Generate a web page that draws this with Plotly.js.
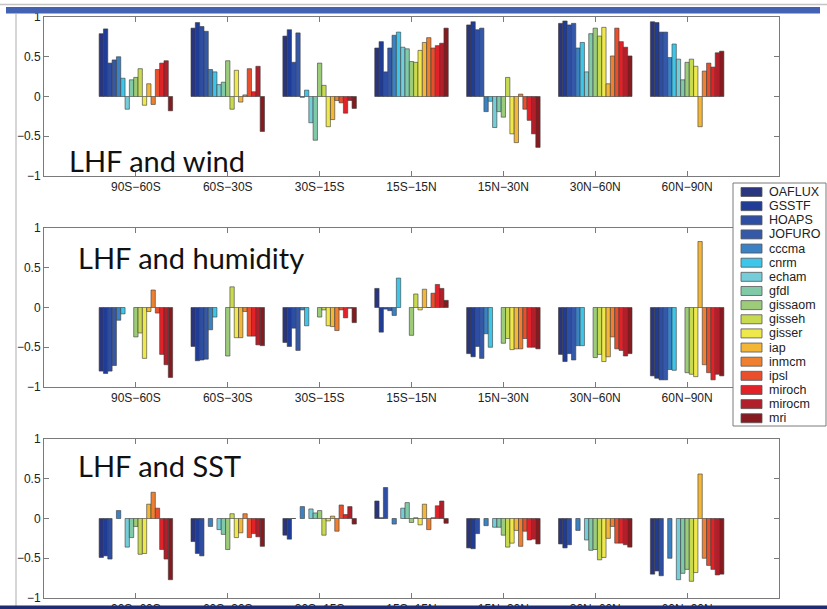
<!DOCTYPE html>
<html><head><meta charset="utf-8">
<script src="https://cdn.plot.ly/plotly-3.0.1.min.js"></script>
<style>html,body{margin:0;padding:0;background:#fff}#chart{width:827px;height:609px}</style>
</head><body><div id="chart"></div>
<script>
// ---- data ----
const models = ['OAFLUX','GSSTF','HOAPS','JOFURO','cccma','cnrm','echam','gfdl','gissaom','gisseh','gisser','iap','inmcm','ipsl','miroch','mirocm','mri'];
const modelColors = ['#2a3580','#1f3d96','#2d4ea3','#3559a8','#3b82c4','#3ec6ea','#74cdd9','#80caa8','#9ccc7a','#c8da50','#efe84a','#f3b637','#ef8030','#e94e2d','#e22229','#b11f2a','#861a1f'];
const regions = ['90S\u221260S','60S\u221230S','30S\u221215S','15S\u221215N','15N\u221230N','30N\u221260N','60N\u221290N'];
const yTickVals = [-1,-0.5,0,0.5,1];
const yTickText = ['\u22121','\u22120.5','0','0.5','1'];
const panelTitles = ['LHF and wind','LHF and humidity','LHF and SST'];

// LHF and wind (17 values per region, model order as above)
const wind90S60S = [0.79,0.85,0.42,0.46,0.50,0.23,-0.16,0.21,0.24,0.35,-0.11,0.16,-0.10,0.34,0.42,0.45,-0.18];
const wind60S30S = [0.86,0.93,0.88,0.82,0.34,0.31,0.15,0.18,0.45,-0.16,0.33,-0.07,0.02,0.35,0.06,0.38,-0.44];
const wind30S15S = [0.76,0.84,0.43,0.80,-0.01,0.08,-0.33,-0.55,0.42,0.14,-0.38,-0.29,-0.05,-0.08,-0.21,-0.05,-0.15];
const wind15S15N = [0.61,0.69,0.31,0.61,0.77,0.81,0.62,0.60,0.44,0.43,0.58,0.68,0.74,0.61,0.64,0.67,0.86];
const wind15N30N = [0.90,0.94,0.84,0.86,-0.19,-0.06,-0.39,-0.19,-0.26,0.24,-0.47,-0.58,0.03,-0.16,-0.30,-0.47,-0.64];
const wind30N60N = [0.92,0.95,0.90,0.92,0.61,0.68,0.31,0.79,0.86,0.76,0.87,0.16,0.51,0.86,0.69,0.62,0.51];
const wind60N90N = [0.94,0.93,0.81,0.81,0.49,0.66,0.47,0.21,0.43,0.47,0.38,-0.38,0.32,0.42,0.37,0.55,0.57];

// LHF and humidity
const hum90S60S = [-0.80,-0.83,-0.80,-0.73,-0.16,-0.08,null,null,-0.37,-0.32,-0.64,-0.05,0.22,-0.07,-0.59,-0.72,-0.88];
const hum60S30S = [-0.49,-0.67,-0.66,-0.65,-0.28,-0.12,null,null,-0.61,0.26,-0.38,-0.38,-0.05,-0.36,-0.36,-0.47,-0.48];
const hum30S15S = [-0.44,-0.49,-0.26,-0.54,-0.03,-0.23,null,null,-0.12,-0.03,-0.23,-0.24,-0.29,-0.03,-0.13,-0.01,-0.19];
const hum15S15N = [0.24,-0.31,-0.02,-0.04,-0.10,0.37,null,null,-0.35,0.17,-0.03,0.23,0,0.18,0.29,0.24,0.09];
const hum15N30N = [-0.58,-0.62,-0.49,-0.64,-0.33,-0.50,null,null,-0.45,-0.39,-0.53,-0.52,-0.52,-0.39,-0.50,-0.50,-0.52];
const hum30N60N = [-0.59,-0.68,-0.58,-0.66,-0.48,-0.48,null,null,-0.63,-0.59,-0.68,-0.62,-0.37,-0.52,-0.54,-0.61,-0.58];
const hum60N90N = [-0.86,-0.89,-0.91,-0.91,-0.78,-0.79,null,null,-0.82,-0.84,-0.87,0.83,-0.72,-0.82,-0.91,-0.84,-0.86];

// LHF and SST
const sst90S60S = [-0.49,-0.47,-0.51,null,0.10,null,-0.36,-0.24,-0.10,-0.45,-0.44,0.18,0.33,0.13,-0.39,-0.51,-0.77];
const sst60S30S = [-0.29,-0.44,-0.47,null,-0.10,null,-0.14,-0.20,-0.39,0.06,-0.24,-0.18,0.06,-0.24,-0.19,-0.23,-0.35];
const sst30S15S = [-0.21,-0.26,0,null,0.15,null,0.12,0.07,0.10,-0.21,-0.03,0.03,-0.16,0.17,0.05,0.15,-0.07];
const sst15S15N = [0.22,0.01,0.39,null,-0.07,null,0.13,0.20,-0.05,0.01,-0.08,0.18,-0.14,0.01,0.16,0.22,-0.06];
const sst15N30N = [-0.37,-0.38,-0.19,null,-0.09,null,-0.11,-0.11,-0.21,-0.36,-0.31,-0.15,-0.35,-0.16,-0.27,-0.26,-0.32];
const sst30N60N = [-0.32,-0.37,-0.33,null,-0.15,null,-0.27,-0.40,-0.39,-0.52,-0.49,-0.25,-0.10,-0.31,-0.31,-0.33,-0.36];
const sst60N90N = [-0.70,-0.66,-0.72,null,-0.50,null,-0.77,-0.69,-0.64,-0.79,-0.68,0.56,-0.50,-0.59,-0.64,-0.71,-0.70];

// ---- layout helpers ----
const W = 827, H = 609;
const px = x => x / W;
const py = y => 1 - y / H;

const panels = [
  {title: panelTitles[0], rows: [wind90S60S,wind60S30S,wind30S15S,wind15S15N,wind15N30N,wind30N60N,wind60N90N], top: 17, bottom: 176, tx: 67, ty: 160},
  {title: panelTitles[1], rows: [hum90S60S,hum60S30S,hum30S15S,hum15S15N,hum15N30N,hum30N60N,hum60N90N], top: 228, bottom: 387, tx: 76, ty: 257},
  {title: panelTitles[2], rows: [sst90S60S,sst60S30S,sst30S15S,sst15S15N,sst15N30N,sst30N60N,sst60N90N], top: 439, bottom: 598, tx: 76, ty: 465}
];

const tickFont = {family: 'Liberation Sans, Arial, sans-serif', size: 12, color: '#222'};
const traces = [];
const layout = {
  width: W, height: H,
  margin: {l: 0, r: 0, t: 0, b: 0},
  paper_bgcolor: '#fff', plot_bgcolor: '#fff',
  barmode: 'group', bargap: 0.2, bargroupgap: 0,
  showlegend: false,
  shapes: [], annotations: []
};

panels.forEach((p, pi) => {
  const sfx = pi === 0 ? '' : String(pi + 1);
  models.forEach((m, mi) => {
    traces.push({
      type: 'bar', name: m,
      x: regions,
      y: p.rows.map(r => r[mi]),
      xaxis: 'x' + sfx, yaxis: 'y' + sfx,
      marker: {color: modelColors[mi], line: {color: '#3a3a3a', width: 0.6}},
      hoverinfo: 'name+y'
    });
  });
  layout['xaxis' + sfx] = {
    domain: [px(44), px(779)], anchor: 'y' + sfx,
    type: 'category', range: [-1, 7], fixedrange: true,
    showline: true, linecolor: '#7a7a7a', linewidth: 1, mirror: 'ticks',
    ticks: 'inside', ticklen: 5, tickcolor: '#7a7a7a',
    showgrid: false, zeroline: false, tickfont: tickFont
  };
  layout['yaxis' + sfx] = {
    domain: [py(p.bottom), py(p.top)], anchor: 'x' + sfx,
    range: [-1, 1], fixedrange: true,
    tickvals: yTickVals, ticktext: yTickText,
    showline: true, linecolor: '#7a7a7a', linewidth: 1, mirror: 'ticks',
    ticks: 'inside', ticklen: 5, tickcolor: '#7a7a7a',
    showgrid: false, zeroline: false, tickfont: tickFont
  };
  layout.annotations.push({
    xref: 'paper', yref: 'paper', x: px(p.tx), y: py(p.ty),
    xanchor: 'left', yanchor: 'middle', showarrow: false,
    text: p.title,
    font: {family: 'Lato, Open Sans, sans-serif', size: 29, color: '#111'}
  });
});

// slide decorations
layout.shapes.push(
  {type: 'line', xref: 'paper', yref: 'paper', x0: 0, x1: 1, y0: py(4.5), y1: py(4.5), line: {color: '#c4c4c4', width: 1.5}, layer: 'above'},
  {type: 'rect', xref: 'paper', yref: 'paper', x0: px(6), x1: px(820), y0: py(13.5), y1: py(7), fillcolor: '#4362b4', line: {width: 0}, layer: 'above'},
  {type: 'line', xref: 'paper', yref: 'paper', x0: px(16), x1: px(16), y0: py(14), y1: 0, line: {color: '#c8c8c8', width: 1.5}, layer: 'above'},
  {type: 'rect', xref: 'paper', yref: 'paper', x0: 0, x1: 1, y0: 0, y1: py(605.5), fillcolor: '#1f2c72', line: {width: 0}, layer: 'above'}
);

// legend box (drawn from the model list)
const legTop = 183, legBottom = 426, legLeft = 733, legRight = 826;
const legFirst = 192, legStep = 14.14;
layout.shapes.push({type: 'rect', xref: 'paper', yref: 'paper', x0: px(legLeft), x1: px(legRight), y0: py(legBottom), y1: py(legTop), fillcolor: '#fff', line: {color: '#7a7a7a', width: 1}, layer: 'above'});
models.forEach((m, mi) => {
  const cy = legFirst + mi * legStep;
  layout.shapes.push({type: 'rect', xref: 'paper', yref: 'paper', x0: px(741), x1: px(762), y0: py(cy + 4.5), y1: py(cy - 4.5), fillcolor: modelColors[mi], line: {color: '#555', width: 0.8}, layer: 'above'});
  layout.annotations.push({xref: 'paper', yref: 'paper', x: px(767), y: py(cy), xanchor: 'left', yanchor: 'middle', showarrow: false, text: m, font: {family: 'Liberation Sans, Arial, sans-serif', size: 12.5, color: '#222'}});
});

Plotly.newPlot('chart', traces, layout, {displayModeBar: false, staticPlot: true});
</script>
</body></html>
